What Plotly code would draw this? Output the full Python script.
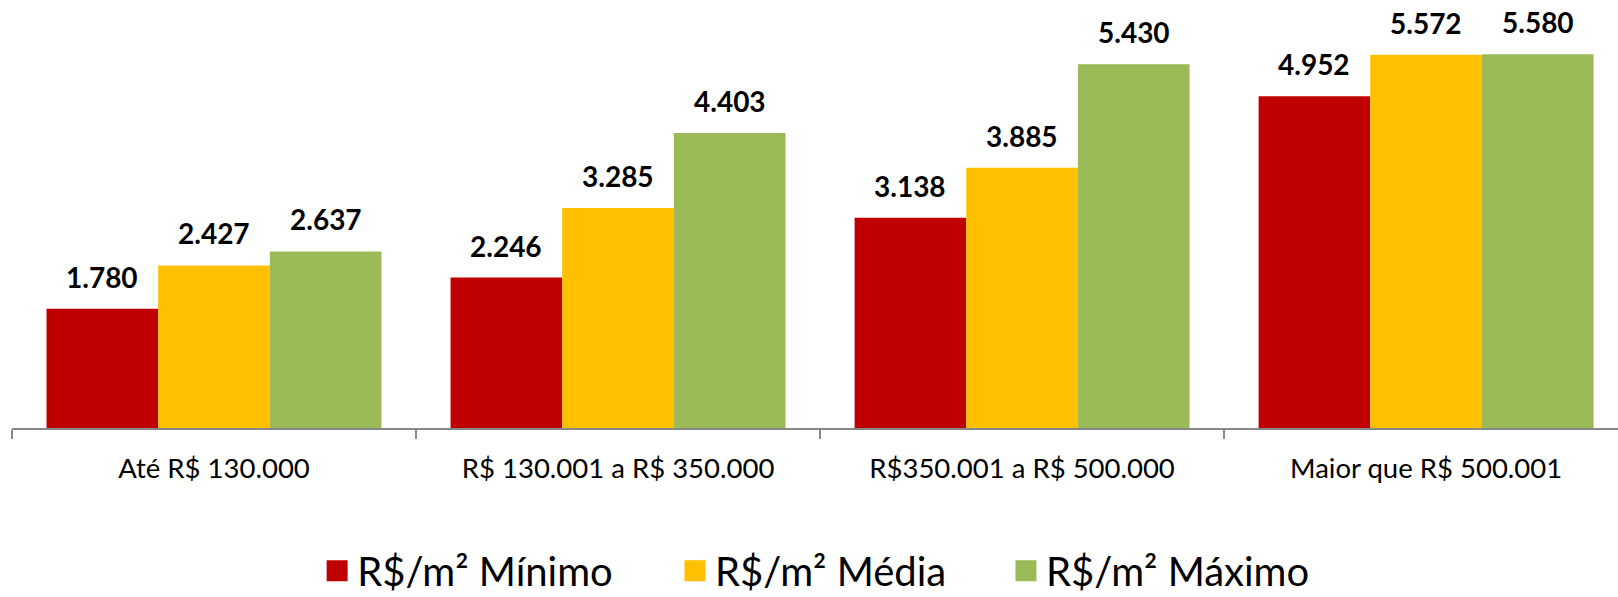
import plotly.graph_objects as go

categories = ["Até R$ 130.000", "R$ 130.001 a R$ 350.000", "R$350.001 a R$ 500.000", "Maior que R$ 500.001"]
series_names = ["R$/m² Mínimo", "R$/m² Média", "R$/m² Máximo"]
minimo = [1780, 2246, 3138, 4952]
media = [2427, 3285, 3885, 5572]
maximo = [2637, 4403, 5430, 5580]
colors = ["#C00000", "#FFC000", "#9BBB59"]

series = [minimo, media, maximo]

def fmt(v):
    return f"{v:,}".replace(",", ".")

BARGAP = 0.171
bar_w = (1 - BARGAP) / 3
offsets = [-bar_w, 0, bar_w]
legend_ids = ["legend", "legend2", "legend3"]
legend_x = [0.19, 0.4128, 0.6189]

fig = go.Figure()
for name, vals, col in zip(series_names, series, colors):
    fig.add_trace(go.Bar(x=categories, y=vals, name=name, marker=dict(color=col, line=dict(width=0)),
                         showlegend=False, hoverinfo="skip"))

# legend entries with larger square symbols, one legend per entry
for name, col, lid in zip(series_names, colors, legend_ids):
    fig.add_trace(go.Scatter(x=[None], y=[None], mode="markers", name=name, legend=lid,
                             marker=dict(symbol="square", size=16, color=col, line=dict(width=5, color=col)),
                             showlegend=True, hoverinfo="skip"))

annotations = []
for vals, off in zip(series, offsets):
    for i, v in enumerate(vals):
        annotations.append(dict(x=i + off, y=v, xref="x", yref="y", text=fmt(v), showarrow=False,
                                yanchor="bottom", xanchor="center", yshift=13,
                                font=dict(family="Lato", size=28, color="#000000", weight="bold")))

legend_common = dict(orientation="h", xref="paper", yref="paper", xanchor="left",
                     y=-0.350, yanchor="middle",
                     font=dict(family="Lato", size=40, color="#000000"), bgcolor="rgba(0,0,0,0)")

fig.update_layout(
    width=1618, height=597,
    margin=dict(l=12, r=0, t=20, b=169, autoexpand=False),
    paper_bgcolor="white", plot_bgcolor="white",
    barmode="group", bargap=BARGAP, bargroupgap=0,
    annotations=annotations,
    legend=dict(x=legend_x[0], **legend_common),
    legend2=dict(x=legend_x[1], **legend_common),
    legend3=dict(x=legend_x[2], **legend_common),
    font=dict(family="Lato", color="#000000"),
)
fig.update_xaxes(type="category", range=[-0.5, 3.475], showline=True, linecolor="#888888", linewidth=1.5,
                 ticks="outside", tickson="boundaries", ticklen=9, tickcolor="#888888", tickwidth=1.5,
                 ticklabelstandoff=15, tickfont=dict(family="Lato", size=27.5, color="#000000"),
                 showgrid=False, zeroline=False)
fig.update_yaxes(range=[0, 6092], visible=False, showgrid=False, zeroline=False)

fig.write_html("out.html", config={"displayModeBar": False},
               post_script="document.body.style.margin='0';document.body.style.overflow='hidden';")
